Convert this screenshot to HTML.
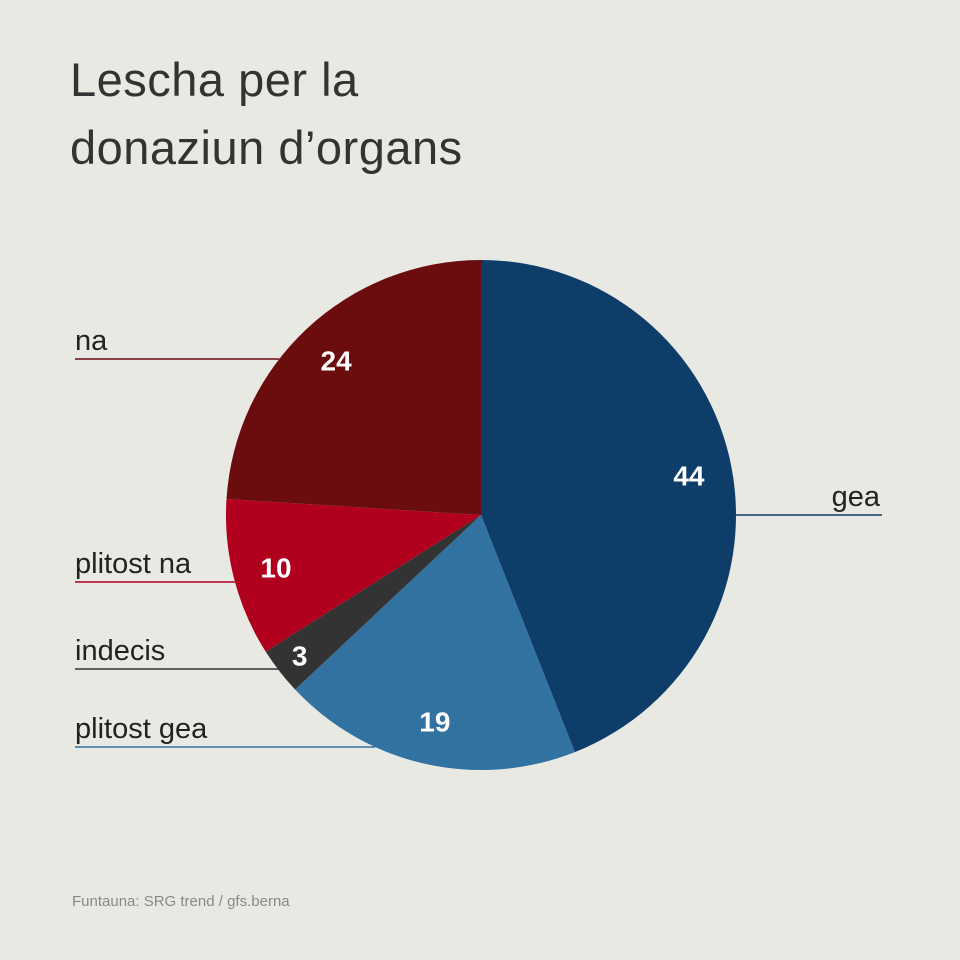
<!DOCTYPE html>
<html><head><meta charset="utf-8"><style>
body{margin:0;background:#e9e9e4;}
svg{display:block;font-family:"Liberation Sans",sans-serif;}
</style></head><body>
<svg id="chart" width="960" height="960" viewBox="0 0 960 960">
<rect width="960" height="960" fill="#e9e9e4"/>
<text x="70" y="96" font-size="47" fill="#333" letter-spacing="0.5">Lescha per la</text>
<text x="70" y="164" font-size="47" fill="#333" letter-spacing="0.5">donaziun d’organs</text>
<g id="slices"></g>
<g id="labels"></g>
<text x="72" y="906" font-size="15" fill="#888">Funtauna: SRG trend / gfs.berna</text>
</svg>
<script>
const categories = ["gea","plitost gea","indecis","plitost na","na"];
const values = [44,19,3,10,24];
const colors = ["#0d3d68","#3272a0","#333333","#b0001e","#6b0c0e"];
const cx=481, cy=515, r=255;
const labelPos = {"gea":{side:"r",y:515},"plitost gea":{side:"l",y:747},"indecis":{side:"l",y:669},"plitost na":{side:"l",y:582},"na":{side:"l",y:359}};
const ns="http://www.w3.org/2000/svg";
const total=values.reduce((a,b)=>a+b,0);
function pt(a,rr){return [cx+rr*Math.sin(a), cy-rr*Math.cos(a)];}
const sG=document.getElementById('slices'), lG=document.getElementById('labels');
let acc=0;
values.forEach((v,i)=>{
  const a0=acc/total*2*Math.PI, a1=(acc+v)/total*2*Math.PI; acc+=v;
  const p0=pt(a0,r), p1=pt(a1,r);
  const large=(a1-a0)>Math.PI?1:0;
  const p=document.createElementNS(ns,'path');
  p.setAttribute('d',`M${cx},${cy}L${p0[0]},${p0[1]}A${r},${r} 0 ${large} 1 ${p1[0]},${p1[1]}Z`);
  p.setAttribute('fill',colors[i]);
  
  
  sG.appendChild(p);
  const am=(a0+a1)/2;
  const rr = v<5 ? r*0.9 : r*0.83;
  const lp=pt(am,rr);
  const t=document.createElementNS(ns,'text');
  t.setAttribute('x',lp[0]); t.setAttribute('y',lp[1]+10);
  t.setAttribute('text-anchor','middle'); t.setAttribute('font-size','28');
  t.setAttribute('font-weight','bold'); t.setAttribute('fill','#fff');
  t.textContent=v;
  
  
  sG.appendChild(t);
  const L=labelPos[categories[i]];
  const y=L.y;
  const dy=y-cy;
  const dx=Math.sqrt(Math.max(0,r*r-dy*dy));
  const line=document.createElementNS(ns,'line');
  const tx=document.createElementNS(ns,'text');
  if(L.side==='r'){
    line.setAttribute('x1',cx+dx); line.setAttribute('x2',882);
    tx.setAttribute('x',880); tx.setAttribute('text-anchor','end');
  } else {
    let xe=cx-dx;
    if(v<5) xe+=20;
    line.setAttribute('x1',75); line.setAttribute('x2',xe);
    tx.setAttribute('x',75);
  }
  line.setAttribute('y1',y); line.setAttribute('y2',y);
  line.setAttribute('stroke',colors[i]); line.setAttribute('stroke-width','1.5');
  
  
  lG.appendChild(line);
  tx.setAttribute('y',y-9); tx.setAttribute('font-size','29'); tx.setAttribute('fill','#222');
  tx.textContent=categories[i];
  
  
  lG.appendChild(tx);
});
</script>
</body></html>
